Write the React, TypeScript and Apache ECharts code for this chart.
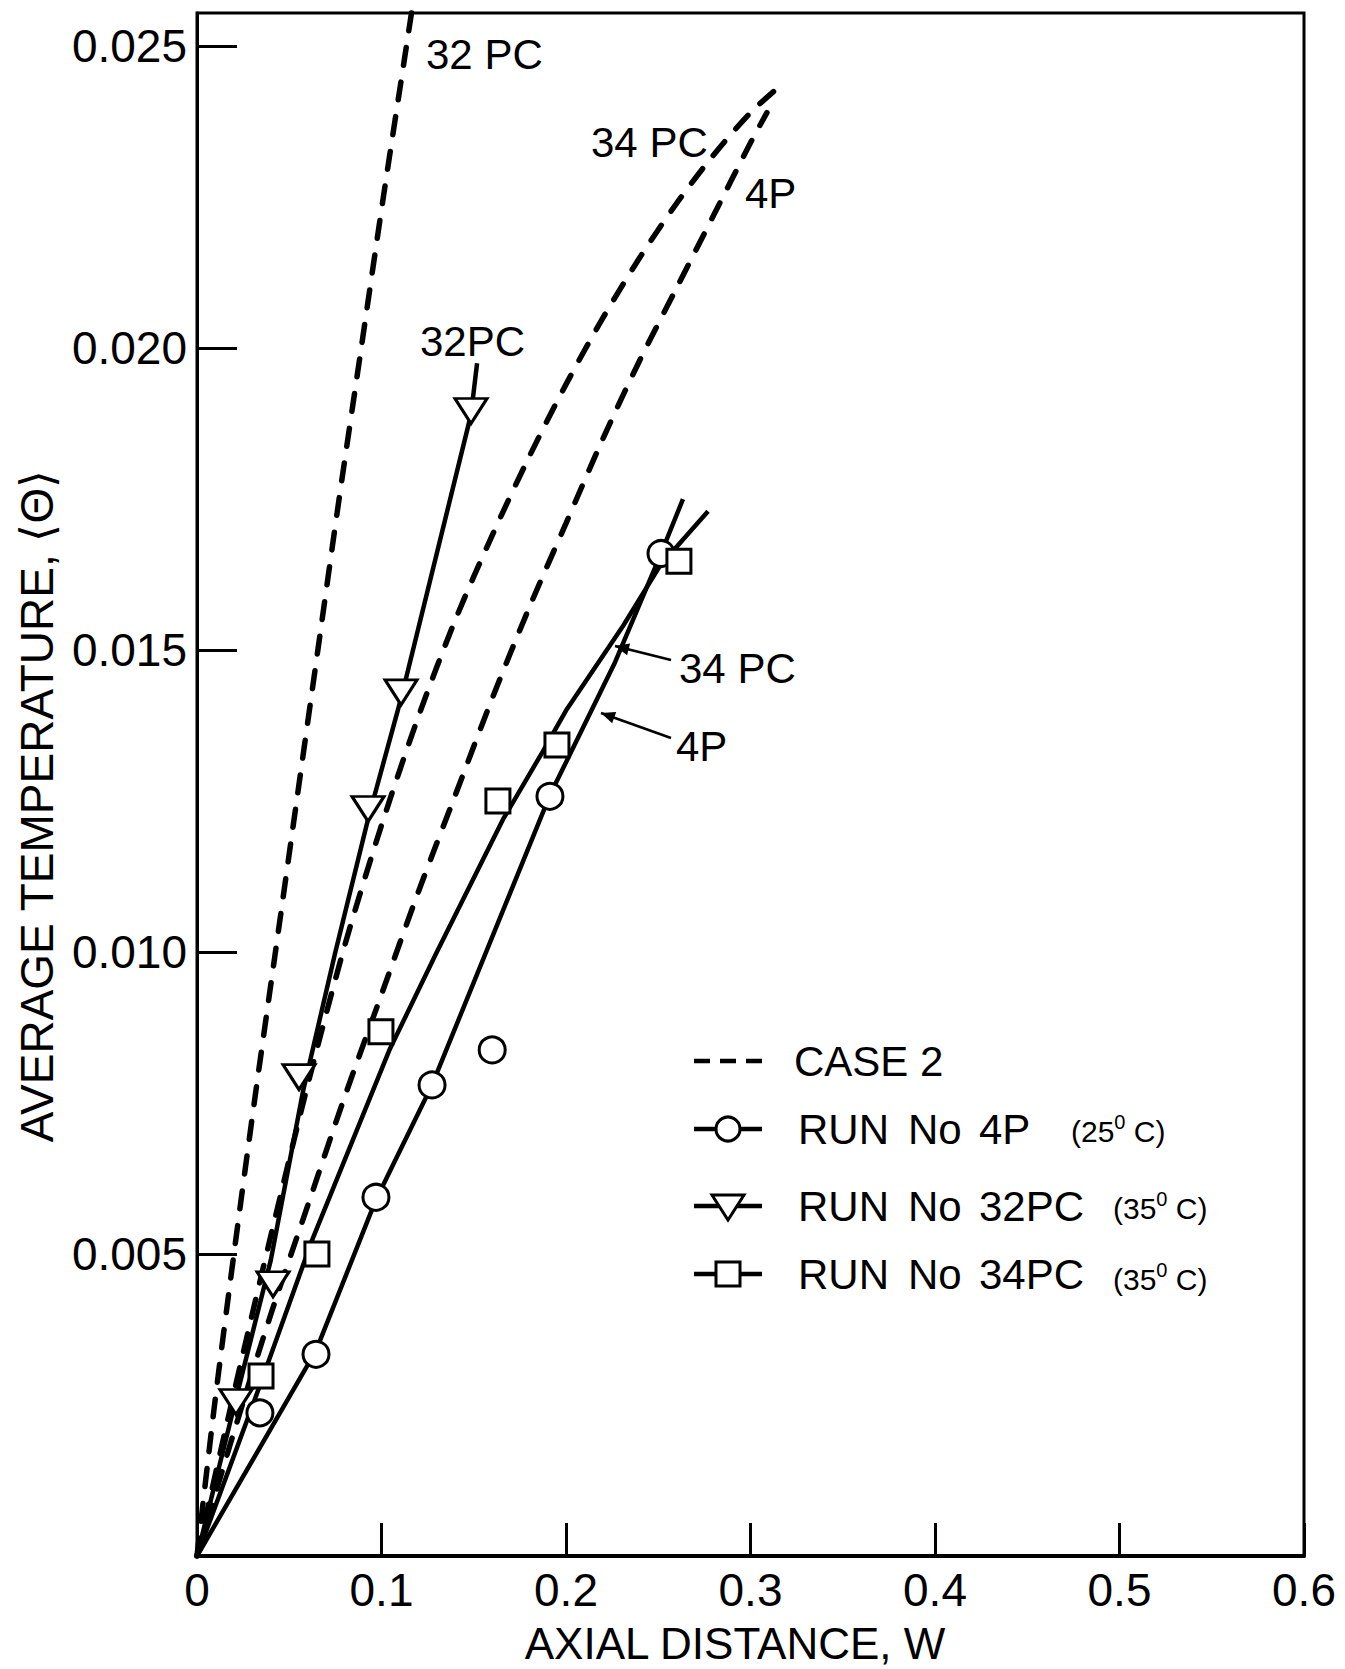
import React, { useEffect, useRef } from "react";
import * as echarts from "echarts";

// ---- DATA ----
const xTicks = [0, 0.1, 0.2, 0.3, 0.4, 0.5, 0.6];
const yTicks = [0, 0.005, 0.01, 0.015, 0.02, 0.025];

// CASE 2 (theory, dashed)
const case2_32PC: [number, number][] = [
  [0, 0], [0.0095, 0.0025], [0.02, 0.005], [0.031, 0.0075], [0.0425, 0.01], [0.054, 0.0125],
  [0.0655, 0.015], [0.077, 0.0175], [0.089, 0.02], [0.101, 0.0225], [0.1135, 0.025], [0.1175, 0.0258],
];
const case2_34PC: [number, number][] = [
  [0, 0], [0.02, 0.0027], [0.04, 0.0053], [0.06, 0.0078], [0.08, 0.0101], [0.1, 0.0121],
  [0.12, 0.0139], [0.14, 0.0155], [0.16, 0.0169], [0.18, 0.0182], [0.2, 0.0194], [0.22, 0.0205],
  [0.24, 0.0215], [0.26, 0.0224], [0.28, 0.0232], [0.3, 0.0239], [0.3144, 0.0243],
];
const case2_4P: [number, number][] = [
  [0, 0], [0.02, 0.00205], [0.04, 0.004], [0.06, 0.0058], [0.08, 0.0076], [0.1, 0.0093],
  [0.12, 0.011], [0.14, 0.0126], [0.16, 0.0142], [0.18, 0.0157], [0.2, 0.0171], [0.22, 0.0185],
  [0.24, 0.0198], [0.26, 0.021], [0.28, 0.0222], [0.3, 0.0234], [0.3089, 0.0239],
];

// Fitted curves through the runs (solid)
const line4P: [number, number][] = [
  [0, 0], [0.0645, 0.0034], [0.097, 0.0059], [0.1274, 0.0078], [0.1913, 0.0126],
  [0.2266, 0.0148], [0.2515, 0.0166], [0.2634, 0.0175],
];
const line32PC: [number, number][] = [
  [0, 0], [0.0211, 0.0026], [0.04, 0.0049], [0.0575, 0.0077], [0.075, 0.01], [0.0927, 0.0122],
  [0.1106, 0.0142], [0.1485, 0.0189], [0.1518, 0.01975],
];
const line34PC: [number, number][] = [
  [0, 0], [0.035, 0.0029], [0.062, 0.0052], [0.1046, 0.0084], [0.13, 0.01], [0.1659, 0.0122],
  [0.187, 0.0133], [0.2, 0.014], [0.2309, 0.0154], [0.251, 0.0164], [0.277, 0.0173],
];

// Measured points
const run4P: [number, number][] = [
  [0.0341, 0.00237], [0.0645, 0.00334], [0.097, 0.00594], [0.1274, 0.0078], [0.16, 0.00838],
  [0.1913, 0.01258], [0.2515, 0.0166],
];
const run32PC: [number, number][] = [
  [0.0211, 0.00255], [0.0412, 0.0045], [0.0553, 0.00793], [0.0927, 0.01237], [0.1106, 0.0143], [0.1485, 0.01896],
];
const run34PC: [number, number][] = [
  [0.0347, 0.00298], [0.065, 0.005], [0.0997, 0.00868], [0.1631, 0.0125], [0.1951, 0.01343], [0.2612, 0.01647],
];

const FONT = '"Liberation Sans", Arial, sans-serif';

function arrow(x1: number, y1: number, x2: number, y2: number) {
  const dx = x2 - x1, dy = y2 - y1;
  const len = Math.hypot(dx, dy);
  const ux = dx / len, uy = dy / len;
  const L = 14, W = 6;
  const bx = x2 - ux * L, by = y2 - uy * L;
  const px = -uy * W, py = ux * W;
  return [
    { type: "line", shape: { x1, y1, x2, y2 }, style: { stroke: "#000", lineWidth: 2.5 } },
    {
      type: "polygon",
      shape: { points: [[x2, y2], [bx + px, by + py], [bx - px, by - py]] },
      style: { fill: "#000" },
    },
  ];
}

function txt(text: string, x: number, y: number, size: number, align = "left") {
  return {
    type: "text",
    x,
    y,
    style: { text, font: `${size}px ${FONT}`, fill: "#000", align, verticalAlign: "middle", textAlign: align, textVerticalAlign: "middle" },
  };
}

function temp(t: string, x: number, y: number) {
  return {
    type: "text",
    x,
    y,
    style: {
      text: `{n|(${t}}{s|0}{n| C)}`,
      fill: "#000",
      align: "left",
      verticalAlign: "middle",
      rich: {
        n: { font: `30px ${FONT}`, fill: "#000", lineHeight: 34, verticalAlign: "bottom" },
        s: { font: `20px ${FONT}`, fill: "#000", lineHeight: 34, verticalAlign: "top" },
      },
    },
  };
}

export default function App() {
  const ref = useRef<HTMLDivElement>(null);
  useEffect(() => {
    document.body.style.margin = "0";
    const chart = echarts.init(ref.current!, null, { renderer: "svg" });
    const dashed = { color: "#000", width: 5.5, type: [18, 17], cap: "round" };
    const solid = { color: "#000", width: 4.5 };
    const mk = { color: "#fff", borderColor: "#000", borderWidth: 3, opacity: 1 };

    const legendX1 = 694, legendX2 = 762, iconX = 728;
    const rows = [1061, 1129, 1206, 1274];

    const graphic: any[] = [
      // axis titles
      {
        type: "text", x: 37, y: 806, rotation: Math.PI / 2,
        style: { text: "AVERAGE TEMPERATURE, ⟨Θ⟩", font: `46px ${FONT}`, fill: "#000", align: "center", verticalAlign: "middle", textAlign: "center", textVerticalAlign: "middle" },
      },
      txt("AXIAL DISTANCE, W", 735, 1643, 44, "center"),
      // curve labels
      txt("32 PC", 426, 54, 42),
      txt("34 PC", 591, 142, 42),
      txt("4P", 745, 193, 42),
      txt("32PC", 420, 341, 42),
      txt("34 PC", 679, 668, 42),
      txt("4P", 676, 746, 42),
      ...arrow(671, 660, 615, 646),
      ...arrow(671, 738, 601, 713),
      // legend
      { type: "line", shape: { x1: legendX1, y1: rows[0], x2: legendX2, y2: rows[0] }, style: { stroke: "#000", lineWidth: 4.5, lineDash: [16, 10] } },
      txt("CASE 2", 794, rows[0], 42),
      { type: "line", shape: { x1: legendX1, y1: rows[1], x2: legendX2, y2: rows[1] }, style: { stroke: "#000", lineWidth: 4.5 } },
      { type: "circle", shape: { cx: iconX, cy: rows[1], r: 12 }, style: { fill: "#fff", stroke: "#000", lineWidth: 3 } },
      { type: "line", shape: { x1: legendX1, y1: rows[2], x2: legendX2, y2: rows[2] }, style: { stroke: "#000", lineWidth: 4.5 } },
      { type: "polygon", shape: { points: [[iconX - 16, rows[2] - 11], [iconX + 16, rows[2] - 11], [iconX, rows[2] + 14]] }, style: { fill: "#fff", stroke: "#000", lineWidth: 3 } },
      { type: "line", shape: { x1: legendX1, y1: rows[3], x2: legendX2, y2: rows[3] }, style: { stroke: "#000", lineWidth: 4.5 } },
      { type: "rect", shape: { x: iconX - 12, y: rows[3] - 12, width: 24, height: 24 }, style: { fill: "#fff", stroke: "#000", lineWidth: 3 } },
      txt("RUN", 798, rows[1], 42), txt("No", 908, rows[1], 42), txt("4P", 979, rows[1], 42), temp("25", 1071, rows[1]),
      txt("RUN", 798, rows[2], 42), txt("No", 908, rows[2], 42), txt("32PC", 979, rows[2], 42), temp("35", 1113, rows[2]),
      txt("RUN", 798, rows[3], 42), txt("No", 908, rows[3], 42), txt("34PC", 979, rows[3], 42), temp("35", 1113, rows[3] + 3),
    ];

    const option: any = {
      animation: false,
      backgroundColor: "#fff",
      grid: { left: 197, right: 41, top: 13, bottom: 113, show: true, borderColor: "#000", borderWidth: 3, backgroundColor: "transparent" },
      xAxis: {
        type: "value", min: xTicks[0], max: xTicks[xTicks.length - 1], interval: 0.1,
        axisLine: { lineStyle: { color: "#000", width: 4 } },
        axisTick: { inside: true, length: 33, lineStyle: { color: "#000", width: 3 } },
        splitLine: { show: false },
        axisLabel: {
          color: "#000", fontFamily: FONT, fontSize: 46, margin: 11,
          formatter: (v: number) => (Math.abs(v) < 1e-9 ? "0" : v.toFixed(1)),
        },
      },
      yAxis: {
        type: "value", min: yTicks[0], max: 0.02555, interval: 0.005,
        axisLine: { lineStyle: { color: "#000", width: 3 } },
        axisTick: { inside: true, length: 40, lineStyle: { color: "#000", width: 3 } },
        splitLine: { show: false },
        axisLabel: {
          color: "#000", fontFamily: FONT, fontSize: 46, margin: 10, showMaxLabel: false,
          formatter: (v: number) => {
            if (Math.abs(v) < 1e-9) return "";
            const r = Math.round(v / 0.005) * 0.005;
            if (Math.abs(r - v) > 1e-7) return "";
            return v.toFixed(3);
          },
        },
      },
      series: [
        { type: "line", name: "CASE 2 32PC", data: case2_32PC, showSymbol: false, symbol: "none", smooth: 0.3, lineStyle: dashed, clip: true },
        { type: "line", name: "CASE 2 34PC", data: case2_34PC, showSymbol: false, symbol: "none", smooth: 0.3, lineStyle: dashed, clip: true },
        { type: "line", name: "CASE 2 4P", data: case2_4P, showSymbol: false, symbol: "none", smooth: 0.3, lineStyle: dashed, clip: true },
        { type: "line", name: "4P fit", data: line4P, showSymbol: false, symbol: "none", lineStyle: solid },
        { type: "line", name: "32PC fit", data: line32PC, showSymbol: false, symbol: "none", lineStyle: solid },
        { type: "line", name: "34PC fit", data: line34PC, showSymbol: false, symbol: "none", lineStyle: solid },
        { type: "scatter", name: "RUN No 4P", data: run4P, symbol: "circle", symbolSize: 26, itemStyle: mk, z: 5 },
        { type: "scatter", name: "RUN No 32PC", data: run32PC, symbol: "triangle", symbolRotate: 180, symbolSize: [32, 25], itemStyle: mk, z: 5 },
        { type: "scatter", name: "RUN No 34PC", data: run34PC, symbol: "rect", symbolSize: 24, itemStyle: mk, z: 5 },
      ],
      graphic,
    };
    chart.setOption(option);
    return () => chart.dispose();
  }, []);
  return <div ref={ref} style={{ width: 1345, height: 1669, background: "#fff" }} />;
}
